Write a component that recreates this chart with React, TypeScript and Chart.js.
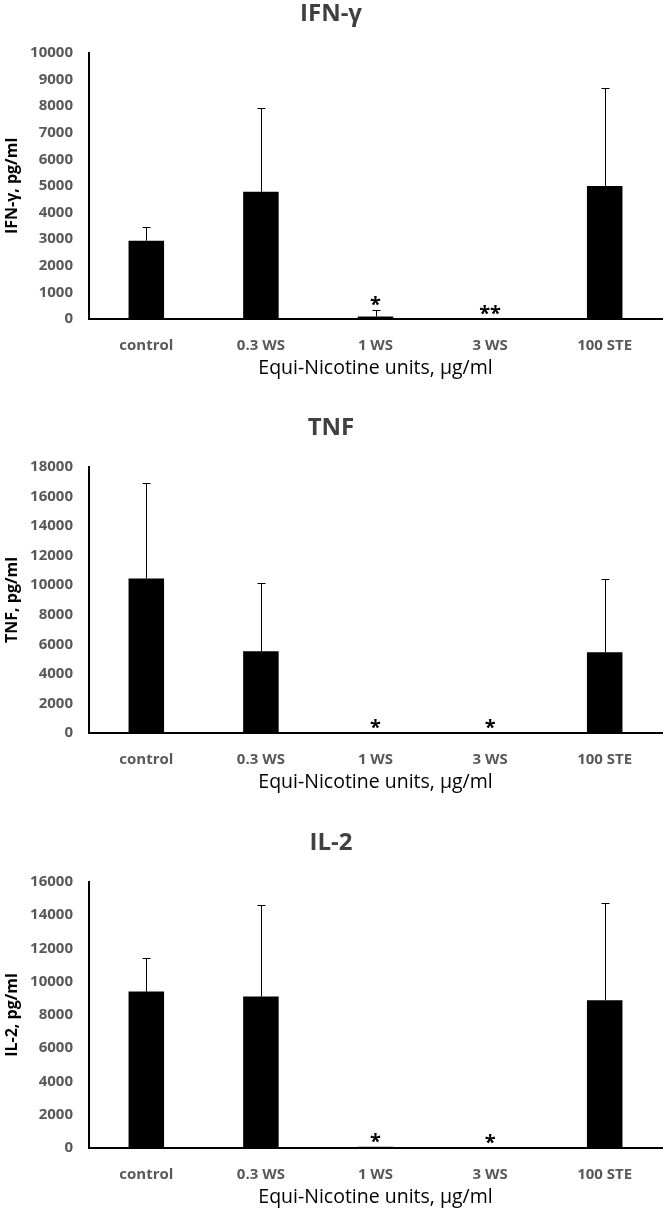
import React, { useEffect, useRef } from "react";
import { Chart, registerables } from "chart.js";

Chart.register(...registerables);

// ---------- data ----------
const CATEGORIES = ["control", "0.3 WS", "1 WS", "3 WS", "100 STE"];

const IFN_MEANS = [2940, 4780, 90, 0, 5000];
const IFN_ERRORS = [500, 3160, 250, 0, 3690];
const IFN_SIG = ["", "", "*", "**", ""];
const IFN_MAX = 10000;
const IFN_STEP = 1000;

const TNF_MEANS = [10450, 5530, 0, 0, 5460];
const TNF_ERRORS = [6450, 4620, 0, 0, 4920];
const TNF_SIG = ["", "", "*", "*", ""];
const TNF_MAX = 18000;
const TNF_STEP = 2000;

const IL2_MEANS = [9400, 9100, 80, 0, 8880];
const IL2_ERRORS = [2050, 5490, 0, 0, 5850];
const IL2_SIG = ["", "", "*", "*", ""];
const IL2_MAX = 16000;
const IL2_STEP = 2000;

const X_TITLE = "Equi-Nicotine units, μg/ml";

const FONT = "'Open Sans', sans-serif";
const W = 663;
const H = 414;

type Props = {
  title: string;
  yTitle: string;
  means: number[];
  errors: number[];
  sig: string[];
  max: number;
  step: number;
  top: number;
};

function BarChart({ title, yTitle, means, errors, sig, max, step, top }: Props) {
  const ref = useRef<HTMLCanvasElement | null>(null);

  useEffect(() => {
    if (!ref.current) return;
    const errPlugin = {
      id: "errAndSig",
      afterDatasetsDraw(chart: any) {
        const { ctx } = chart;
        const y = chart.scales.y;
        const meta = chart.getDatasetMeta(0);
        ctx.save();
        ctx.strokeStyle = "#000";
        ctx.lineWidth = 1;
        means.forEach((v, i) => {
          const bar = meta.data[i];
          const cx = Math.round(bar.x) + 0.5;
          const e = errors[i];
          const y0 = y.getPixelForValue(v);
          const y1 = y.getPixelForValue(v + e);
          if (e > 0) {
            ctx.beginPath();
            ctx.moveTo(cx, y0);
            ctx.lineTo(cx, Math.round(y1) + 0.5);
            ctx.moveTo(cx - 4, Math.round(y1) + 0.5);
            ctx.lineTo(cx + 4, Math.round(y1) + 0.5);
            ctx.stroke();
          }
          if (sig[i]) {
            ctx.fillStyle = "#000";
            ctx.font = `bold 20px ${FONT}`;
            ctx.textAlign = "center";
            ctx.textBaseline = "alphabetic";
            ctx.fillText(sig[i], bar.x, y1 + 1);
          }
        });
        ctx.restore();
      },
    };

    const chart = new Chart(ref.current, {
      type: "bar",
      data: {
        labels: CATEGORIES,
        datasets: [
          {
            data: means,
            backgroundColor: "#000",
            borderWidth: 0,
            barPercentage: 0.31,
            categoryPercentage: 1,
          },
        ],
      },
      options: {
        responsive: false,
        animation: false,
        layout: { padding: { left: 0, right: 1, top: 0, bottom: 0 } },
        plugins: {
          legend: { display: false },
          tooltip: { enabled: false },
          title: {
            display: true,
            text: title,
            color: "#404040",
            font: { family: FONT, size: 24, weight: "bold", lineHeight: 1.2 },
            padding: { top: 0, bottom: 24 },
          },
        },
        scales: {
          x: {
            grid: { display: false, drawTicks: false },
            border: { display: true, color: "#000", width: 2 },
            ticks: {
              color: "#595959",
              font: { family: FONT, size: 15, weight: "bold", lineHeight: 1.2 },
              padding: 18,
              maxRotation: 0,
            },
            title: {
              display: true,
              text: X_TITLE,
              color: "#000",
              font: { family: FONT, size: 19.5, weight: "normal", lineHeight: 1.2 },
              padding: { top: 0, bottom: 34 },
            },
            afterFit: (s: any) => {
              s.height = H - 319;
            },
          },
          y: {
            min: 0,
            max,
            grid: { display: false, drawTicks: false },
            border: { display: true, color: "#000", width: 2 },
            ticks: {
              stepSize: step,
              color: "#595959",
              font: { family: FONT, size: 15, weight: "bold", lineHeight: 1.2 },
              padding: 16,
              callback: (v: any) => String(v),
            },
            title: {
              display: true,
              text: yTitle,
              color: "#000",
              font: { family: FONT, size: 16, weight: "bold", lineHeight: 1.2 },
              padding: { top: 3, bottom: 3 },
            },
            afterFit: (s: any) => {
              s.width = 89;
            },
          },
        },
      },
      plugins: [errPlugin],
    });
    return () => chart.destroy();
  }, []);

  return (
    <div style={{ position: "absolute", left: 0, top, width: W, height: H }}>
      <canvas ref={ref} width={W} height={H} style={{ display: "block" }} />
    </div>
  );
}

export default function App() {
  return (
    <div
      style={{
        position: "absolute",
        left: 0,
        top: 0,
        width: W,
        height: 1211,
        overflow: "hidden",
        background: "#fff",
      }}
    >
      <BarChart
        title="IFN-γ"
        yTitle="IFN-γ, pg/ml"
        means={IFN_MEANS}
        errors={IFN_ERRORS}
        sig={IFN_SIG}
        max={IFN_MAX}
        step={IFN_STEP}
        top={0}
      />
      <BarChart
        title="TNF"
        yTitle="TNF, pg/ml"
        means={TNF_MEANS}
        errors={TNF_ERRORS}
        sig={TNF_SIG}
        max={TNF_MAX}
        step={TNF_STEP}
        top={414}
      />
      <BarChart
        title="IL-2"
        yTitle="IL-2, pg/ml"
        means={IL2_MEANS}
        errors={IL2_ERRORS}
        sig={IL2_SIG}
        max={IL2_MAX}
        step={IL2_STEP}
        top={829}
      />
    </div>
  );
}
